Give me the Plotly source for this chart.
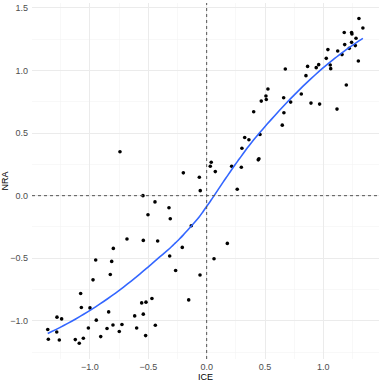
import numpy as np
import plotly.graph_objects as go

# ICE / NRA scatter values
ice = [
    -0.546, -0.443, -0.503, -0.323, -0.312, -0.683, -0.543, -0.420, -0.800, -0.951,
    -0.814, -0.317, -0.209, -0.132, -0.266, -0.974, -0.826, -1.080, -1.074, -1.000,
    -1.283, -1.243, -1.362, -1.285, -1.357, -1.263, -1.126, -1.092, -1.057, -1.014,
    -0.946, -0.908, -0.854, -0.840, -0.803, -0.749, -0.726, -0.617, -0.600, -0.557,
    -0.543, -0.523, -0.520, -0.469, -0.440, -0.154, -0.057, -0.055, 0.262, 0.177,
    0.063, -0.743, -0.200, -0.063,
    0.031, 0.039, 0.074, 0.214, 0.297, 0.302, 0.326, 0.362, 0.403, 0.442,
    0.448, 0.457, 0.468, 0.508, 0.511, 0.525, 0.648, 0.660, 0.662, 0.674,
    0.720, 0.811, 0.851, 0.865, 0.894, 0.939, 0.960, 0.968, 1.025, 1.039,
    1.059, 1.063, 1.117, 1.123, 1.160, 1.179, 1.183, 1.197, 1.222, 1.242,
    1.245, 1.242, 1.274, 1.280, 1.300, 1.305, 1.339,
]
nra = [
    0.000, -0.050, -0.152, -0.096, -0.184, -0.346, -0.357, -0.362, -0.421, -0.514,
    -0.525, -0.482, -0.413, -0.240, -0.597, -0.672, -0.629, -0.781, -0.893, -0.896,
    -0.970, -0.984, -1.069, -1.088, -1.146, -1.152, -1.149, -1.178, -1.138, -1.056,
    -0.994, -1.125, -1.061, -0.928, -1.032, -1.085, -1.029, -0.960, -1.056, -0.856,
    -0.946, -1.117, -0.850, -0.821, -1.034, -0.832, -0.634, 0.040, 0.051, -0.381,
    -0.504, 0.350, 0.182, 0.147,
    0.235, 0.267, 0.192, 0.235, 0.227, 0.379, 0.464, 0.446, 0.670, 0.286,
    0.294, 0.488, 0.755, 0.795, 0.768, 0.851, 0.563, 0.782, 0.662, 1.011,
    0.747, 0.811, 0.958, 1.032, 0.739, 1.022, 1.046, 0.731, 1.096, 1.166,
    1.043, 1.014, 0.691, 1.155, 1.126, 1.302, 1.206, 0.883, 1.176, 1.302,
    1.291, 1.224, 1.198, 1.256, 1.075, 1.414, 1.339,
]

x_ticks = [-1.0, -0.5, 0.0, 0.5, 1.0]
y_ticks = [-1.0, -0.5, 0.0, 0.5, 1.0, 1.5]


def loess(x, y, xs, span=0.75):
    """Local quadratic regression with tricube weights (like R's loess)."""
    x = np.asarray(x, float)
    y = np.asarray(y, float)
    n = len(x)
    q = int(np.floor(n * span))
    out = []
    for x0 in xs:
        d = np.abs(x - x0)
        h = np.sort(d)[q - 1]
        u = np.clip(d / h, 0, 1)
        w = (1 - u ** 3) ** 3
        X = np.vstack([np.ones(n), x - x0, (x - x0) ** 2]).T
        W = np.sqrt(w)
        beta, *_ = np.linalg.lstsq(X * W[:, None], y * W, rcond=None)
        out.append(beta[0])
    return np.array(out)


xs = np.linspace(min(ice), max(ice), 80)
ys = loess(ice, nra, xs)


def fmt(v):
    return f"{v:.1f}".replace("-", "\u2212")


FONT = "Liberation Sans, Arial, sans-serif"

fig = go.Figure()
fig.add_trace(go.Scatter(
    x=ice, y=nra, mode="markers",
    marker=dict(color="black", size=3.6),
    hoverinfo="skip", showlegend=False,
))
fig.add_trace(go.Scatter(
    x=xs, y=ys, mode="lines",
    line=dict(color="#3366FF", width=1.6, shape="spline"),
    hoverinfo="skip", showlegend=False,
))

fig.add_hline(y=0, line=dict(color="#555555", width=1, dash="3px,3px"), layer="above")
fig.add_vline(x=0, line=dict(color="#555555", width=1, dash="3px,3px"), layer="above")

axis_common = dict(
    showline=False, zeroline=False, ticks="", automargin=False,
    showgrid=True, gridcolor="#EBEBEB", gridwidth=1,
    tickfont=dict(family=FONT, size=9, color="#4D4D4D"),
    minor=dict(showgrid=True, gridcolor="#F3F3F3", gridwidth=0.6, dtick=0.25, tick0=0),
)

fig.update_layout(
    width=382, height=382,
    margin=dict(l=32, r=3, t=3, b=23),
    paper_bgcolor="white", plot_bgcolor="white",
    font=dict(family=FONT, size=9, color="black"),
    hovermode=False,
    xaxis=dict(
        range=[-1.497, 1.477], tickvals=x_ticks, ticktext=[fmt(v) for v in x_ticks],
        ticklabelstandoff=1,
        title=dict(text="ICE", standoff=0, font=dict(size=9)),
        **axis_common,
    ),
    yaxis=dict(
        range=[-1.304, 1.538], tickvals=y_ticks, ticktext=[fmt(v) for v in y_ticks],
        ticklabelstandoff=3,
        title=dict(text="NRA", standoff=0, font=dict(size=9)),
        **axis_common,
    ),
)

fig.write_html(
    "out.html",
    config={"displayModeBar": False, "staticPlot": True},
    post_script="document.body.style.margin='0';",
)
